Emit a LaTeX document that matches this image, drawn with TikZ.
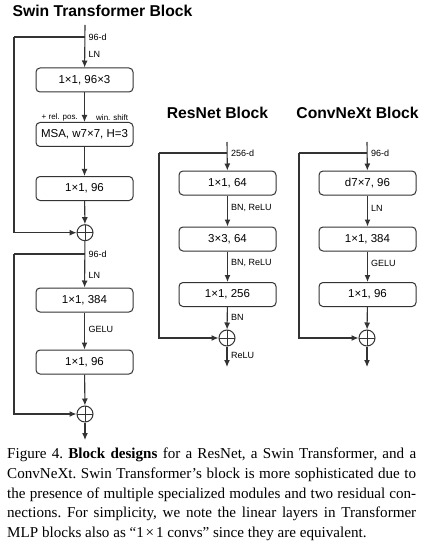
\documentclass[tikz,border=0pt]{standalone}
\usepackage{fontspec}
\setmainfont{Liberation Serif}
\setsansfont{Liberation Sans}
\usetikzlibrary{arrows.meta}
\definecolor{ln}{HTML}{333333}
\tikzset{
  blk/.style={draw=ln, line width=1pt, rounded corners=4pt, minimum width=97pt, minimum height=24pt, inner sep=0pt, font=\sffamily\fontsize{11.5}{12}\selectfont},
  plus/.style={draw=ln, line width=1pt, circle, minimum size=16pt, inner sep=0pt,
    path picture={\draw[ln, line width=1pt] (path picture bounding box.north) -- (path picture bounding box.south) (path picture bounding box.west) -- (path picture bounding box.east);}},
  conn/.style={draw=ln, line width=1.1pt},
  arr/.style={conn, -{Latex[length=7pt,width=6pt]}},
  lbl/.style={anchor=west, inner sep=0pt, font=\sffamily\fontsize{9}{9}\selectfont},
  tiny/.style={inner sep=0pt, font=\sffamily\fontsize{8}{8}\selectfont},
  ttl/.style={inner sep=0pt, font=\sffamily\bfseries\fontsize{15.7}{16}\selectfont}
}
\begin{document}
\begin{tikzpicture}[x=1pt,y=-1pt]
\useasboundingbox[fill=white] (0,0) rectangle (442,548);
% ---------- Swin ----------
\node[ttl] (ts) at (102.5,11) {Swin Transformer Block};
\coordinate (s0) at (85,25);
\coordinate (sa) at (85,37);
\coordinate (sb) at (14,37);
\node[blk] (s1) at (84.5,80) {1×1, 96×3};
\node[blk] (s2) at (84.5,134.5) {MSA, w7×7, H=3};
\node[blk] (s3) at (84.5,188.5) {1×1, 96};
\node[plus] (p1) at (85,232.7) {};
\coordinate (sc) at (85,254);
\coordinate (sd) at (14,254);
\node[blk] (s4) at (84.5,300) {1×1, 384};
\node[blk] (s5) at (84.5,362) {1×1, 96};
\node[plus] (p2) at (85,414) {};
\coordinate (se) at (85,440);
\draw[arr] (s0) -- (s1);
\draw[conn] (sa) -- (sb);
\draw[arr] (sb) |- (p1);
\draw[arr] (s1) -- (s2);
\draw[arr] (s2) -- (s3);
\draw[arr] (s3) -- (p1);
\draw[arr] (p1) -- (s4);
\draw[conn] (sc) -- (sd);
\draw[arr] (sd) |- (p2);
\draw[arr] (s4) -- (s5);
\draw[arr] (s5) -- (p2);
\draw[arr] (p2) -- (se);
\node[lbl] (l1) at (88.5,37) {96-d};
\node[lbl] (l2) at (88.5,54) {LN};
\node[tiny, anchor=east] (l3) at (78,117) {+ rel. pos.};
\node[tiny, anchor=west] (l4) at (96,118) {win. shift};
\node[lbl] (l5) at (88.5,254) {96-d};
\node[lbl] (l6) at (88.5,275) {LN};
\node[lbl] (l7) at (88.5,329) {GELU};
% ---------- ResNet ----------
\node[ttl] (tr) at (217.5,113) {ResNet Block};
\coordinate (r0) at (227,142);
\coordinate (ra) at (227,153);
\coordinate (rb) at (159,153);
\node[blk] (r1) at (227.5,183) {1×1, 64};
\node[blk] (r2) at (227.5,239) {3×3, 64};
\node[blk] (r3) at (227.5,294.5) {1×1, 256};
\node[plus] (rp) at (227,338) {};
\coordinate (re) at (227,367);
\draw[arr] (r0) -- (r1);
\draw[conn] (ra) -- (rb);
\draw[arr] (rb) |- (rp);
\draw[arr] (r1) -- (r2);
\draw[arr] (r2) -- (r3);
\draw[arr] (r3) -- (rp);
\draw[arr] (rp) -- (re);
\node[lbl] (m1) at (231,153) {256-d};
\node[lbl] (m2) at (231,208) {BN, ReLU};
\node[lbl] (m3) at (231,263) {BN, ReLU};
\node[lbl] (m4) at (231,317) {BN};
\node[lbl] (m5) at (231,355) {ReLU};
% ---------- ConvNeXt ----------
\node[ttl] (tc) at (357.5,113) {ConvNeXt Block};
\coordinate (c0) at (367,142);
\coordinate (ca) at (367,153);
\coordinate (cb) at (299,153);
\node[blk] (c1) at (367.5,183) {d7×7, 96};
\node[blk] (c2) at (367.5,239) {1×1, 384};
\node[blk] (c3) at (367.5,294.5) {1×1, 96};
\node[plus] (cp) at (367,338) {};
\coordinate (ce) at (367,367);
\draw[arr] (c0) -- (c1);
\draw[conn] (ca) -- (cb);
\draw[arr] (cb) |- (cp);
\draw[arr] (c1) -- (c2);
\draw[arr] (c2) -- (c3);
\draw[arr] (c3) -- (cp);
\draw[arr] (cp) -- (ce);
\node[lbl] (n1) at (371,153) {96-d};
\node[lbl] (n2) at (371,208) {LN};
\node[lbl] (n3) at (371,263) {GELU};
% ---------- caption ----------
\node[anchor=north west, inner sep=0pt, text width=409pt, align=justify,
  font=\fontsize{15.1}{19.7}\selectfont\frenchspacing] (cap) at (7,448)
{Figure 4. \textbf{Block designs} for a ResNet, a Swin Transformer, and a\linebreak
ConvNeXt. Swin Transformer’s block is more sophisticated due to\linebreak
the presence of multiple specialized modules and two residual con-\linebreak
nections. For simplicity, we note the linear layers in Transformer\linebreak
MLP blocks also as “1\hspace{0.12em}×\hspace{0.12em}1 convs” since they are equivalent.};
\end{tikzpicture}
\end{document}
